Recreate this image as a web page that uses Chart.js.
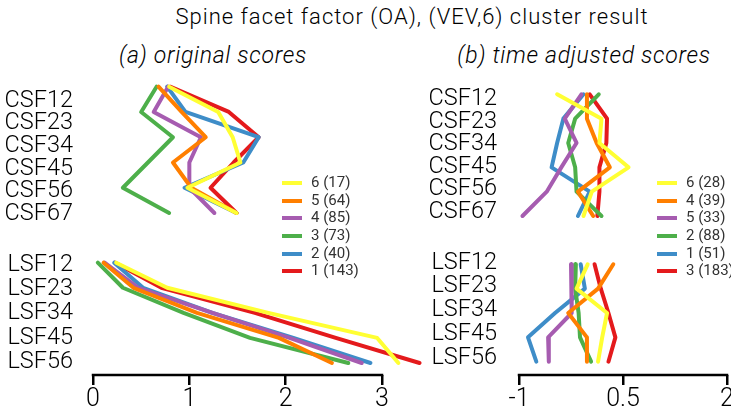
<!DOCTYPE html>
<html>
<head>
<meta charset="utf-8">
<title>Spine facet factor cluster result</title>
<script src="https://cdn.jsdelivr.net/npm/chart.js@4.4.1/dist/chart.umd.min.js"></script>
<style>
  html, body { margin: 0; padding: 0; background: #fff; }
  body { width: 731px; height: 412px; position: relative; overflow: hidden;
         font-family: Roboto, "Liberation Sans", sans-serif; font-weight: 300; color: #000; }
  canvas { position: absolute; }
  .txt { position: absolute; white-space: nowrap; transform: translate(-50%, -50%); }
  #title { left: 412px; top: 16px; font-size: 22px; letter-spacing: 1px; }
  .sub { top: 55px; font-size: 23px; font-style: italic; letter-spacing: 0.7px; }
  #subA { left: 213px; }
  #subB { left: 584px; }
  .legend { position: absolute; font-size: 15px; font-weight: 400; color: #333; z-index: 5; white-space: nowrap; }
  .legend div { height: 17.7px; line-height: 17.7px; display: flex; align-items: center; }
  .legend i { display: inline-block; width: 20px; height: 4px; margin-right: 9px; }
</style>
</head>
<body>
<div id="title" class="txt">Spine facet factor (OA), (VEV,6) cluster result</div>
<div id="subA" class="txt sub">(a) original scores</div>
<div id="subB" class="txt sub">(b) time adjusted scores</div>

<canvas id="origCsf"></canvas>
<canvas id="origLsf"></canvas>
<canvas id="adjCsf"></canvas>
<canvas id="adjLsf"></canvas>

<div class="legend" id="legOrig" style="left:282px; top:174px"></div>
<div class="legend" id="legAdj" style="left:657px; top:174px"></div>

<script>
// segment labels
const csfLabels = ['CSF12', 'CSF23', 'CSF34', 'CSF45', 'CSF56', 'CSF67'];
const lsfLabels = ['LSF12', 'LSF23', 'LSF34', 'LSF45', 'LSF56'];

// (a) original scores, clusters in legend order
const origNames = ['6 (17)', '5 (64)', '4 (85)', '3 (73)', '2 (40)', '1 (143)'];
const origColors = ['#FFFF33', '#FF7F00', '#A65CB0', '#4DAF4A', '#3E8DC8', '#E41A1C'];

const origCsf6 = [0.79, 1.30, 1.45, 1.53, 0.98, 1.49];
const origCsf5 = [0.68, 0.92, 1.17, 0.83, 1.02, 1.49];
const origCsf4 = [0.78, 0.63, 1.12, 1.00, 1.00, 1.26];
const origCsf3 = [0.66, 0.50, 0.83, 0.57, 0.31, 0.79];
const origCsf2 = [0.77, 0.96, 1.72, 1.56, 0.95, 1.49];
const origCsf1 = [0.80, 1.41, 1.72, 1.46, 1.22, 1.49];

const origLsf6 = [0.24, 0.77, 1.82, 2.95, 3.17];
const origLsf5 = [0.11, 0.42, 1.08, 1.93, 2.48];
const origLsf4 = [0.12, 0.47, 1.24, 2.04, 2.79];
const origLsf3 = [0.05, 0.31, 0.94, 1.63, 2.65];
const origLsf2 = [0.22, 0.52, 1.24, 2.08, 2.88];
const origLsf1 = [0.23, 0.71, 1.68, 2.52, 3.39];

// (b) time adjusted scores, clusters in legend order
const adjNames = ['6 (28)', '4 (39)', '5 (33)', '2 (88)', '1 (51)', '3 (183)'];
const adjColors = ['#FFFF33', '#FF7F00', '#A65CB0', '#4DAF4A', '#3E8DC8', '#E41A1C'];

const adjCsf6 = [-0.45, 0.19, 0.16, 0.58, 0.05, -0.07];
const adjCsf4 = [-0.02, -0.02, 0.12, 0.31, -0.15, 0.07];
const adjCsf5 = [-0.10, -0.34, -0.17, -0.39, -0.60, -0.95];
const adjCsf2 = [0.15, -0.19, -0.29, -0.19, -0.17, 0.19];
const adjCsf1 = [-0.07, -0.36, -0.45, -0.53, 0.02, -0.15];
const adjCsf3 = [0.02, 0.27, 0.26, 0.16, 0.16, 0.13];

const adjLsf6 = [-0.01, -0.17, 0.27, 0.20, 0.14];
const adjLsf4 = [0.36, 0.14, -0.29, -0.02, -0.02];
const adjLsf5 = [-0.25, -0.24, -0.24, -0.58, -0.57];
const adjLsf2 = [-0.18, -0.19, -0.14, -0.12, 0.04];
const adjLsf1 = [-0.11, -0.05, -0.48, -0.87, -0.75];
const adjLsf3 = [0.09, 0.18, 0.29, 0.39, 0.29];

const origTicks = [0, 1, 2, 3];
const adjTicks = [-1, 0.5, 2];

const FONT = 'Roboto, "Liberation Sans", sans-serif';
const X_AXIS_H = 37;

// value range so that v0 lands on px0 and v1 on px1 inside [lo, hi]
function span(v0, px0, v1, px1, lo, hi) {
    const k = (px1 - px0) / (v1 - v0);
    return { min: v0 - (px0 - lo) / k, max: v0 + (hi - px0) / k, toVal: px => v0 + (px - px0) / k };
}

// plain base-style axis line, only between the outer ticks
const baseAxis = {
    id: 'baseAxis',
    afterDraw(chart, args, opts) {
        if (!opts.show) return;
        const sx = chart.scales.x, y = chart.chartArea.bottom, ctx = chart.ctx;
        ctx.save();
        ctx.strokeStyle = '#000';
        ctx.lineWidth = 2.5;
        ctx.beginPath();
        ctx.moveTo(sx.getPixelForValue(opts.from) - 1.25, y);
        ctx.lineTo(sx.getPixelForValue(opts.to) + 1.25, y);
        ctx.stroke();
        ctx.restore();
    }
};

function mkProfile(id, p) {
    const el = document.getElementById(id);
    el.width = p.box.width; el.height = p.box.height;
    el.style.left = p.box.left + 'px'; el.style.top = p.box.top + 'px';

    const axisH = p.ticksX ? X_AXIS_H : 0;
    const xr = span(p.xAnchor[0], p.xAnchor[1], p.xAnchor[2], p.xAnchor[3],
        p.box.left + p.yWidth, p.box.left + p.box.width);
    const yr = span(0, p.yFirst, p.labels.length - 1, p.yLast,
        p.box.top, p.box.top + p.box.height - axisH);

    new Chart(el, {
        type: 'scatter',
        data: {
            datasets: p.series.map((vals, i) => ({
                label: p.names[i],
                data: vals.map((v, j) => ({ x: v, y: j })),
                showLine: true,
                borderColor: p.colors[i],
                borderWidth: 4,
                borderCapStyle: 'round',
                borderJoinStyle: 'round',
                pointRadius: 0,
                clip: false
            }))
        },
        options: {
            responsive: false,
            animation: false,
            events: [],
            layout: { padding: 0 },
            plugins: {
                legend: { display: false },
                tooltip: { enabled: false },
                baseAxis: { show: !!p.ticksX, from: p.ticksX ? p.ticksX[0] : 0, to: p.ticksX ? p.ticksX[p.ticksX.length - 1] : 0 }
            },
            scales: {
                x: {
                    type: 'linear',
                    min: xr.min, max: xr.max,
                    display: !!p.ticksX,
                    border: { display: false },
                    grid: { drawOnChartArea: false, drawTicks: true, tickLength: 10, color: '#000', lineWidth: 2.5 },
                    ticks: { font: { family: FONT, size: 25, weight: 300 }, color: '#000', padding: 0, autoSkip: false, maxRotation: 0 },
                    afterBuildTicks: s => { s.ticks = (p.ticksX || []).map(v => ({ value: v })); },
                    afterFit: s => { s.height = axisH; s.paddingLeft = 0; s.paddingRight = 0; }
                },
                y: {
                    type: 'linear',
                    reverse: true,
                    min: yr.min, max: yr.max,
                    border: { display: false },
                    grid: { display: false },
                    ticks: {
                        font: { family: FONT, size: 23.5, weight: 300 }, color: '#000', padding: 2, autoSkip: false,
                        callback: (v, i) => p.labels[i]
                    },
                    afterBuildTicks: s => {
                        const n = p.labels.length;
                        s.ticks = p.labels.map((_, i) => ({ value: yr.toVal(p.labTop + (p.labBottom - p.labTop) * i / (n - 1)) }));
                    },
                    // labels sit well inside the plot, so no extra room above/below
                    afterFit: s => { s.width = p.yWidth; s.paddingTop = 0; s.paddingBottom = 0; }
                }
            }
        },
        plugins: [baseAxis]
    });
}

function mkLegend(id, names, colors) {
    document.getElementById(id).innerHTML = names
        .map((n, i) => `<div><i style="background:${colors[i]}"></i>${n}</div>`).join('');
}

mkProfile('origCsf', {
    box: { left: 0, top: 70, width: 440, height: 155 }, yWidth: 83,
    xAnchor: [0, 93, 3, 382], yFirst: 86.7, yLast: 213, labTop: 100.7, labBottom: 214,
    labels: csfLabels, names: origNames, colors: origColors,
    series: [origCsf6, origCsf5, origCsf4, origCsf3, origCsf2, origCsf1]
});
mkProfile('origLsf', {
    box: { left: 0, top: 240, width: 440, height: 172 }, yWidth: 83,
    xAnchor: [0, 93, 3, 382], yFirst: 262.7, yLast: 363, labTop: 265, labBottom: 362,
    labels: lsfLabels, names: origNames, colors: origColors, ticksX: origTicks,
    series: [origLsf6, origLsf5, origLsf4, origLsf3, origLsf2, origLsf1]
});
mkProfile('adjCsf', {
    box: { left: 420, top: 70, width: 340, height: 155 }, yWidth: 87,
    xAnchor: [-1, 519, 2, 727], yFirst: 94.3, yLast: 216, labTop: 99.3, labBottom: 211.7,
    labels: csfLabels, names: adjNames, colors: adjColors,
    series: [adjCsf6, adjCsf4, adjCsf5, adjCsf2, adjCsf1, adjCsf3]
});
mkProfile('adjLsf', {
    box: { left: 420, top: 240, width: 340, height: 172 }, yWidth: 87,
    xAnchor: [-1, 519, 2, 727], yFirst: 264.3, yLast: 361.7, labTop: 262.7, labBottom: 358.3,
    labels: lsfLabels, names: adjNames, colors: adjColors, ticksX: adjTicks,
    series: [adjLsf6, adjLsf4, adjLsf5, adjLsf2, adjLsf1, adjLsf3]
});

mkLegend('legOrig', origNames, origColors);
mkLegend('legAdj', adjNames, adjColors);
</script>
</body>
</html>
